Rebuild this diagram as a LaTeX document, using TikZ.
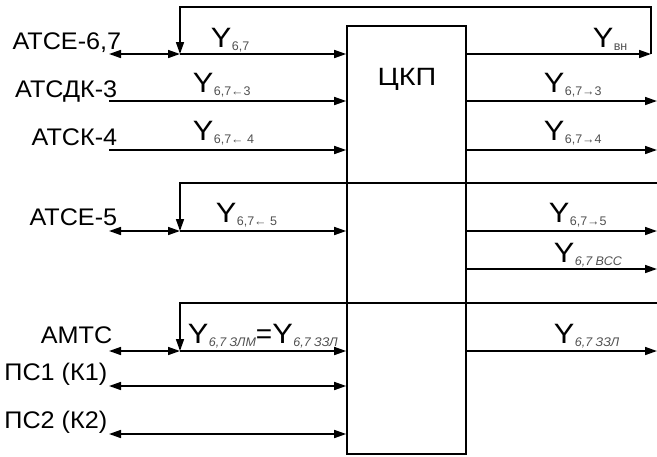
\documentclass[tikz,border=0pt]{standalone}
\usepackage{fontspec}
\setmainfont{Liberation Sans}
\usetikzlibrary{arrows.meta}
\newcommand{\Yl}[1]{\scalebox{1.1}[1]{Y}\kern0.5pt\raisebox{-3pt}{\fontsize{12.5}{12}\selectfont\color{subgray}#1}}
\definecolor{subgray}{RGB}{80,80,80}
\begin{document}
\begin{tikzpicture}[x=1pt,y=-1pt,line width=1.6pt,
  tip/.tip={Triangle[length=12pt,width=8pt]},
  arr/.style={-tip},
  darr/.style={tip-tip},
  lbl/.style={anchor=base east,inner sep=0pt,font=\fontsize{24}{26}\selectfont},
  ylbl/.style={anchor=base west,inner sep=0pt,font=\fontsize{28}{30}\selectfont},
  box/.style={draw,rectangle,minimum width=119pt,minimum height=428pt,inner sep=0pt}]
\useasboundingbox (0,0) rectangle (657,456);
% central block
\node[box] (ckp) at (406.5,240) {};
\node[anchor=base,inner sep=0pt,font=\fontsize{25}{27}\selectfont] (ckpt) at (407,85) {\scalebox{1.15}[1]{ЦКП}};
% left labels
\node[lbl] (l1) at (122,49) {\scalebox{1.05}[1]{АТСЕ-6,7}};
\node[lbl] (l2) at (118,97) {\scalebox{1.05}[1]{АТСДК-3}};
\node[lbl] (l3) at (118,145) {\scalebox{1.05}[1]{АТСК-4}};
\node[lbl] (l4) at (118,225) {\scalebox{1.05}[1]{АТСЕ-5}};
\node[lbl] (l5) at (113,343) {\scalebox{1.05}[1]{АМТС}};
\node[lbl] (l6) at (108,380) {\scalebox{1.05}[1]{ПС1 (К1)}};
\node[lbl] (l7) at (108,428) {\scalebox{1.05}[1]{ПС2 (К2)}};
% coordinates
\coordinate (a1) at (109,54);  \coordinate (j1) at (180,54);
\coordinate (a2) at (109,101);
\coordinate (a3) at (109,150);
\coordinate (a4) at (109,231); \coordinate (j4) at (180,231);
\coordinate (a5) at (109,351); \coordinate (j5) at (180,351);
\coordinate (a6) at (109,386);
\coordinate (a7) at (109,434);
\coordinate (t1) at (180,7);   \coordinate (t2) at (651,7);
\coordinate (r1) at (651,54);
\coordinate (h1) at (180,183); \coordinate (h1e) at (657,183);
\coordinate (h2) at (180,303); \coordinate (h2e) at (657,303);
\coordinate (o2) at (657,101);
\coordinate (o3) at (657,150);
\coordinate (o4) at (657,231);
\coordinate (o5) at (657,269);
\coordinate (o6) at (657,351);
% inputs
\draw[darr] (a1) -- (j1);
\draw[arr] (j1) -- (ckp.west |- j1);
\draw[arr] (a2) -- (ckp.west |- a2);
\draw[arr] (a3) -- (ckp.west |- a3);
\draw[darr] (a4) -- (j4);
\draw[arr] (j4) -- (ckp.west |- j4);
\draw[darr] (a5) -- (j5);
\draw[arr] (j5) -- (ckp.west |- j5);
\draw[darr] (a6) -- (ckp.west |- a6);
\draw[darr] (a7) -- (ckp.west |- a7);
% feedback loops
\draw[arr] (ckp.east |- r1) -- (r1);
\draw[arr] (r1) -- (t2) -- (t1) -- (j1);
\draw[arr] (h1e) -- (h1) -- (j4);
\draw[arr] (h2e) -- (h2) -- (j5);
% outputs
\draw[arr] (ckp.east |- o2) -- (o2);
\draw[arr] (ckp.east |- o3) -- (o3);
\draw[arr] (ckp.east |- o4) -- (o4);
\draw[arr] (ckp.east |- o5) -- (o5);
\draw[arr] (ckp.east |- o6) -- (o6);
% signal labels
\node[ylbl] (y1) at (210,47) {\Yl{6,7}};
\node[ylbl] (y2) at (192,92) {\Yl{6,7←3}};
\node[ylbl] (y3) at (192,140) {\Yl{6,7← 4}};
\node[ylbl] (y4) at (215,222) {\Yl{6,7← 5}};
\node[ylbl] (y5) at (187,343) {\Yl{\itshape 6,7 ЗЛМ}=\Yl{\itshape 6,7 ЗЗЛ}};
\node[ylbl] (y6) at (592,47) {\Yl{вн}};
\node[ylbl] (y7) at (543,92) {\Yl{6,7→3}};
\node[ylbl] (y8) at (543,140) {\Yl{6,7→4}};
\node[ylbl] (y9) at (548,222) {\Yl{6,7→5}};
\node[ylbl] (y10) at (553,262) {\Yl{\itshape 6,7 ВСС}};
\node[ylbl] (y11) at (553,343) {\Yl{\itshape 6,7 ЗЗЛ}};
\end{tikzpicture}
\end{document}
